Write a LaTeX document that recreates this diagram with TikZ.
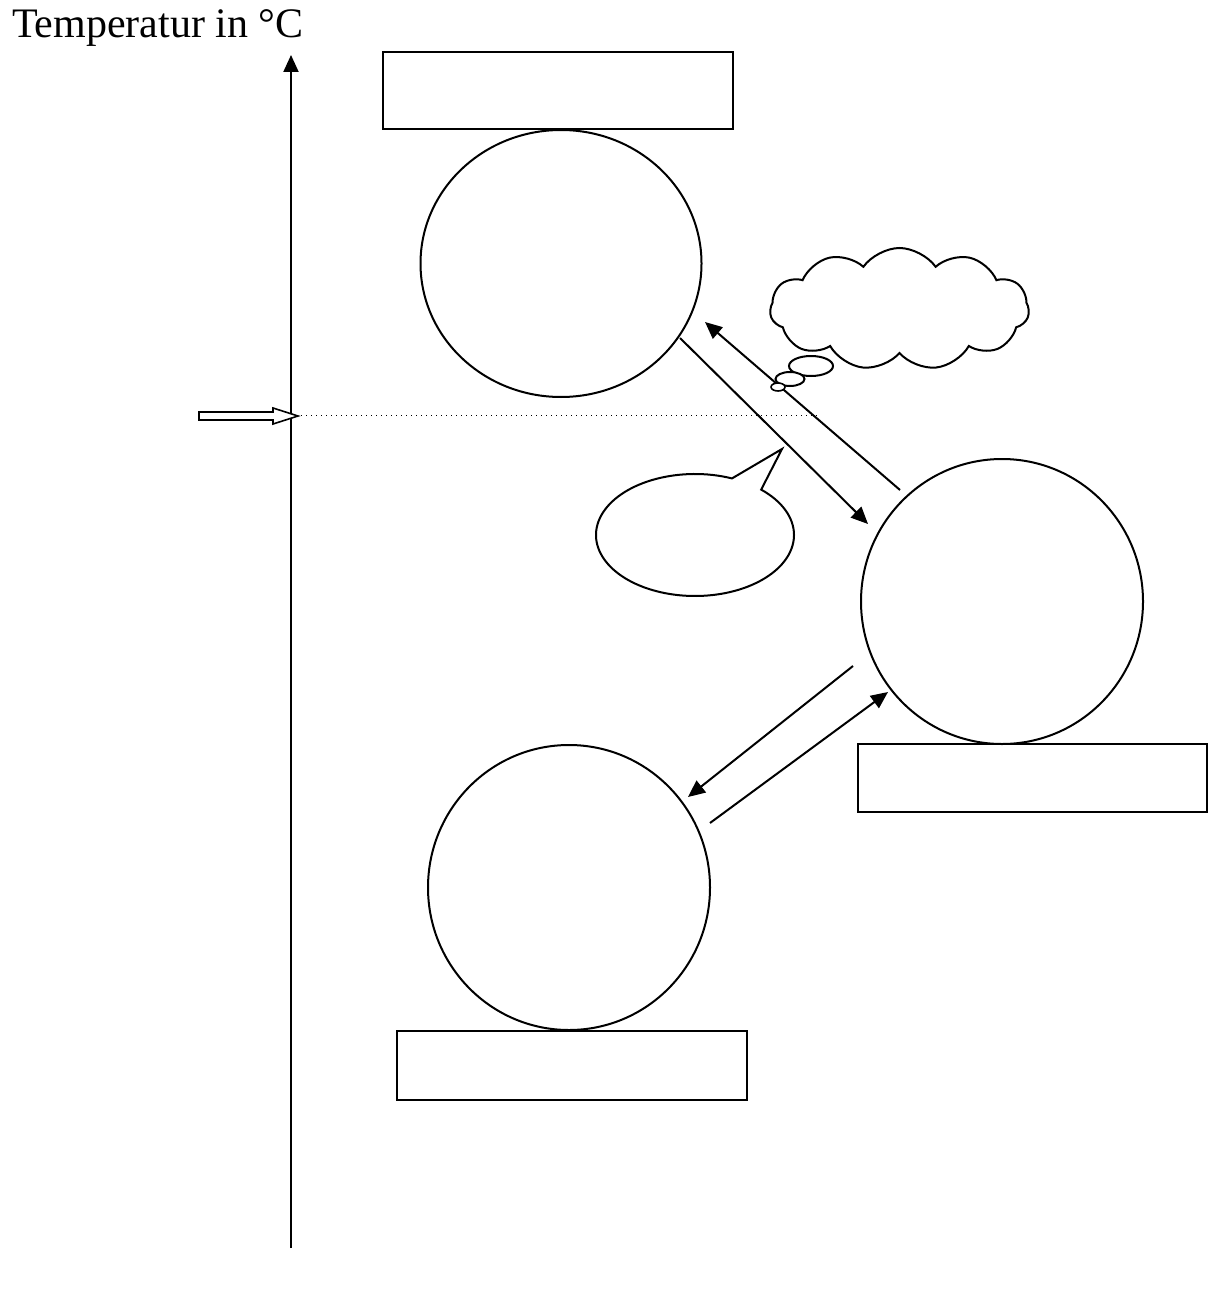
\documentclass[tikz,border=0pt]{standalone}
\usepackage{fontspec}
\setmainfont{Liberation Serif}
\usetikzlibrary{arrows.meta,shapes.geometric,shapes.callouts,shapes.symbols}

\begin{document}
\begin{tikzpicture}[x=0.5pt,y=-0.5pt,>={Triangle[length=8.5pt,width=7.5pt]},line width=1pt,
    ball/.style={ellipse,draw,inner sep=0pt},
    plate/.style={rectangle,draw,inner sep=0pt},
    bubble/.style={ellipse,draw,fill=white,inner sep=0pt}]
  \useasboundingbox (0,0) rectangle (1208,1305);
  % ---------------- axis, title and marked temperature
  \coordinate (axisbot) at (291,1248);
  \coordinate (axistop) at (291,55);
  \coordinate (mark) at (291,415);
  \coordinate (markend) at (817,415);
  \draw[->] (axisbot) -- (axistop);
  \node[anchor=base west,inner sep=0pt,font=\fontsize{21}{25}\selectfont] (title) at (11,38) {Temperatur in °C};
  \draw[line width=0.5pt,dotted] (mark) -- (markend);
  \draw[line width=0.8pt,fill=white] (199,412) -- (273,412) -- (273,408) -- (298,416)
    -- (273,424) -- (273,420) -- (199,420) -- cycle;
  % ---------------- three states with their plates
  \node[plate,minimum width=175pt,minimum height=38.5pt] (topbox) at (558,90.5) {};
  \node[ball,minimum width=140.5pt,minimum height=133.5pt] (topcirc) at (561,263.5) {};
  \node[ball,minimum width=141pt,minimum height=142.5pt] (midcirc) at (1002,601.5) {};
  \node[plate,minimum width=174.5pt,minimum height=34pt] (midbox) at (1032.5,778) {};
  \node[ball,minimum width=141pt,minimum height=142.5pt] (lowcirc) at (569,887.5) {};
  \node[plate,minimum width=175pt,minimum height=34.5pt] (lowbox) at (572,1065.5) {};
  % ---------------- transitions
  \coordinate (a1) at (680,338);  \coordinate (a2) at (868,524);
  \coordinate (b1) at (900,490);  \coordinate (b2) at (705,322);
  \coordinate (c1) at (853,666);  \coordinate (c2) at (688,797);
  \coordinate (d1) at (710,823);  \coordinate (d2) at (888,692);
  \draw[->] (a1) -- (a2);
  \draw[->] (b1) -- (b2);
  \draw[->] (c1) -- (c2);
  \draw[->] (d1) -- (d2);
  % ---------------- thought cloud and speech bubble
  \node[cloud,draw,fill=white,inner sep=0pt,cloud puffs=11,cloud puff arc=110,aspect=2,
    minimum width=129.5pt,minimum height=61pt] (think) at (899.5,309) {};
  \node[bubble,minimum width=22pt,minimum height=10pt] (puff1) at (811,366) {};
  \node[bubble,minimum width=14.5pt,minimum height=7pt] (puff2) at (790,379) {};
  \node[bubble,minimum width=7pt,minimum height=4pt,line width=0.8pt] (puff3) at (778,387) {};
  \node[ellipse callout,draw,fill=white,inner sep=0pt,minimum width=99pt,minimum height=61pt,
    callout absolute pointer={(782,449)},callout pointer arc=20]
    (speak) at (695,535) {};
\end{tikzpicture}
\end{document}
